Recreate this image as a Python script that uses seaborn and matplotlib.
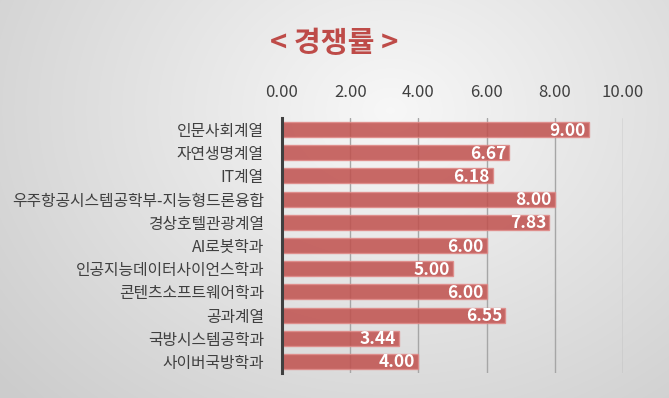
import numpy as np
import pandas as pd
import matplotlib
matplotlib.use("Agg")
import matplotlib.pyplot as plt
import matplotlib.transforms as mtransforms
import seaborn as sns

categories = ["인문사회계열", "자연생명계열", "IT계열", "우주항공시스템공학부-지능형드론융합",
              "경상호텔관광계열", "AI로봇학과", "인공지능데이터사이언스학과", "콘텐츠소프트웨어학과",
              "공과계열", "국방시스템공학과", "사이버국방학과"]
values = [9.00, 6.67, 6.18, 8.00, 7.83, 6.00, 5.00, 6.00, 6.55, 3.44, 4.00]
xticks = [0, 2, 4, 6, 8, 10]
title = "< 경쟁률 >"

sns.set_theme(style="white")
plt.rcParams['font.family'] = ['Noto Sans CJK KR', 'DejaVu Sans']

fig = plt.figure(figsize=(6.69, 3.98), dpi=100)

# background radial gradient
bg = fig.add_axes([0, 0, 1, 1], zorder=-10)
yy, xx = np.mgrid[0:398, 0:669]
cx, cy = 390, 110
d = np.sqrt(((xx - cx) / 520.0) ** 2 + ((yy - cy) / 420.0) ** 2)
d = np.clip(d, 0, 1)
light, dark = 0.97, 0.80
img = light - (light - dark) * d
bg.imshow(np.dstack([img, img, img]), aspect='auto', extent=[0, 1, 0, 1], origin='upper')
bg.set_axis_off()

ax = fig.add_axes([282 / 669, 1 - 373 / 398, 341 / 669, 255 / 398])
ax.patch.set_alpha(0)

df = pd.DataFrame({"category": categories, "value": values})
sns.barplot(data=df, x="value", y="category", orient="h", ax=ax,
            color="#C0504D", width=0.65, saturation=1, alpha=0.85,
            edgecolor="#E08A88", linewidth=1.0, zorder=3)

ax.set_xlim(0, 10)
ax.set_xticks(xticks)
ax.set_xticklabels([f"{t:.2f}" for t in xticks])
ax.xaxis.tick_top()
ax.tick_params(axis='x', length=0, pad=12, labelsize=12, colors="#404040")
ax.tick_params(axis='y', length=0, pad=13, labelsize=11.4, colors="#404040")
ax.set_xlabel("")
ax.set_ylabel("")
ax.grid(axis='x', color="#A6A6A6", linewidth=1.0, zorder=0)
ax.set_axisbelow(True)
for s in ["top", "right", "bottom"]:
    ax.spines[s].set_visible(False)
ax.spines["left"].set_color("#404040")
ax.spines["left"].set_linewidth(2.2)
ax.spines["left"].set_zorder(5)

off = mtransforms.offset_copy(ax.transData, fig=fig, x=-3, y=-1, units='dots')
for i, v in enumerate(values):
    ax.text(v, i, f"{v:.2f}", transform=off, ha='right', va='center',
            color='white', fontsize=12.5, fontweight='bold', zorder=6)

fig.text(0.5, 1 - 43 / 398, title, ha='center', va='center', fontsize=21,
         fontweight='bold', color="#BE4B48")

fig.savefig("out.png", dpi=100)
